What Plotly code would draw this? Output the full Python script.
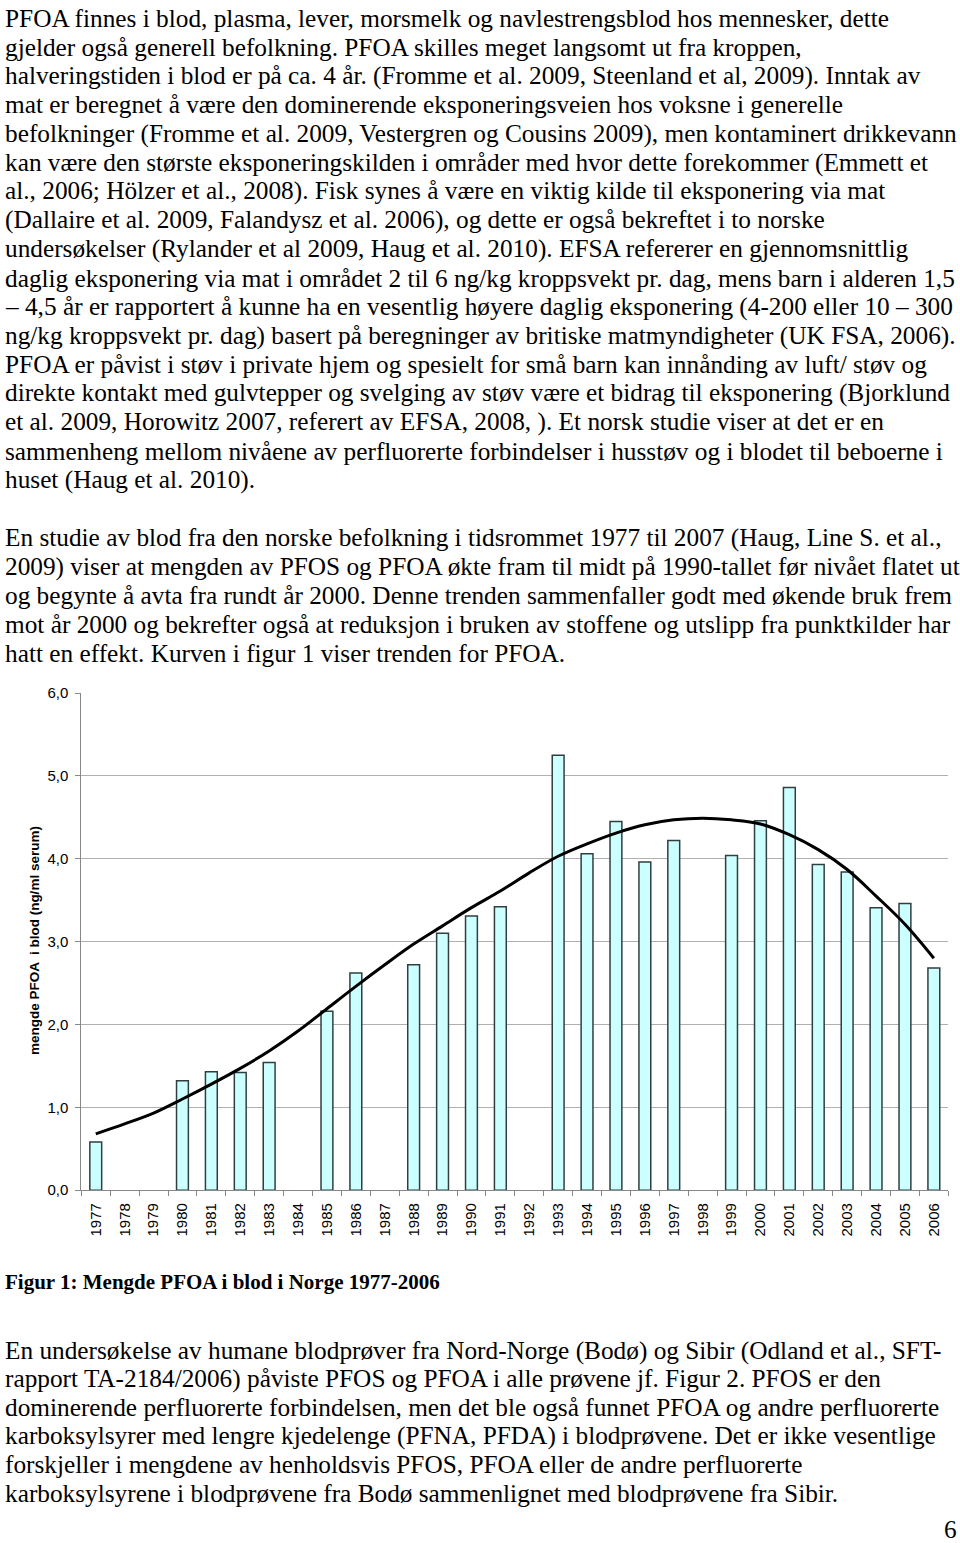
import plotly.graph_objects as go

W, H = 960, 1543

years = [str(y) for y in range(1977, 2007)]
pfoa_values = [0.58, None, None, 1.32, 1.43, 1.42, 1.54, None, 2.16, 2.62,
               None, 2.72, 3.10, 3.31, 3.42, None, 5.25, 4.06, 4.45, 3.96,
               4.22, None, 4.04, 4.46, 4.86, 3.93, 3.84, 3.41, 3.46, 2.68]
trend_values = [0.68, 0.80, 0.93, 1.10, 1.28, 1.47, 1.68, 1.92, 2.19, 2.46,
                2.72, 2.97, 3.19, 3.41, 3.61, 3.83, 4.03, 4.18, 4.31, 4.41,
                4.47, 4.49, 4.47, 4.42, 4.29, 4.11, 3.87, 3.55, 3.21, 2.80]
y_ticks = [0, 1, 2, 3, 4, 5, 6]
y_ticklabels = ["0,0", "1,0", "2,0", "3,0", "4,0", "5,0", "6,0"]
y_title = "mengde PFOA  i blod (ng/ml serum)"
caption = "Figur 1: Mengde PFOA i blod i Norge 1977-2006"

para_top = [
    "PFOA finnes i blod, plasma, lever, morsmelk og navlestrengsblod hos mennesker, dette",
    "gjelder også generell befolkning. PFOA skilles meget langsomt ut fra kroppen,",
    "halveringstiden i blod er på ca. 4 år. (Fromme et al. 2009, Steenland et al, 2009). Inntak av",
    "mat er beregnet å være den dominerende eksponeringsveien hos voksne i generelle",
    "befolkninger (Fromme et al. 2009, Vestergren og Cousins 2009), men kontaminert drikkevann",
    "kan være den største eksponeringskilden i områder med hvor dette forekommer (Emmett et",
    "al., 2006; Hölzer et al., 2008). Fisk synes å være en viktig kilde til eksponering via mat",
    "(Dallaire et al. 2009, Falandysz et al. 2006), og dette er også bekreftet i to norske",
    "undersøkelser (Rylander et al 2009, Haug et al. 2010). EFSA refererer en gjennomsnittlig",
    "daglig eksponering via mat i området 2 til 6 ng/kg kroppsvekt pr. dag, mens barn i alderen 1,5",
    "– 4,5 år er rapportert å kunne ha en vesentlig høyere daglig eksponering (4-200 eller 10 – 300",
    "ng/kg kroppsvekt pr. dag) basert på beregninger av britiske matmyndigheter (UK FSA, 2006).",
    "PFOA er påvist i støv i private hjem og spesielt for små barn kan innånding av luft/ støv og",
    "direkte kontakt med gulvtepper og svelging av støv være et bidrag til eksponering (Bjorklund",
    "et al. 2009, Horowitz 2007, referert av EFSA, 2008, ). Et norsk studie viser at det er en",
    "sammenheng mellom nivåene av perfluorerte forbindelser i husstøv og i blodet til beboerne i",
    "huset (Haug et al. 2010).",
    "",
    "En studie av blod fra den norske befolkning i tidsrommet 1977 til 2007 (Haug, Line S. et al.,",
    "2009) viser at mengden av PFOS og PFOA økte fram til midt på 1990-tallet før nivået flatet ut",
    "og begynte å avta fra rundt år 2000. Denne trenden sammenfaller godt med økende bruk frem",
    "mot år 2000 og bekrefter også at reduksjon i bruken av stoffene og utslipp fra punktkilder har",
    "hatt en effekt. Kurven i figur 1 viser trenden for PFOA.",
]
para_bottom = [
    "En undersøkelse av humane blodprøver fra Nord-Norge (Bodø) og Sibir (Odland et al., SFT-",
    "rapport TA-2184/2006) påviste PFOS og PFOA i alle prøvene jf. Figur 2. PFOS er den",
    "dominerende perfluorerte forbindelsen, men det ble også funnet PFOA og andre perfluorerte",
    "karboksylsyrer med lengre kjedelenge (PFNA, PFDA) i blodprøvene. Det er ikke vesentlige",
    "forskjeller i mengdene av henholdsvis PFOS, PFOA eller de andre perfluorerte",
    "karboksylsyrene i blodprøvene fra Bodø sammenlignet med blodprøvene fra Sibir.",
]
page_number = "6"

# layout in pixels
PL, PR, PT, PB = 81.3, 948.3, 691.7, 1194.3
def px(x): return x / W
def py(y): return 1 - y / H

SERIF = "Liberation Serif, Times New Roman, serif"
SANS = "Liberation Sans, Arial, sans-serif"
BODY = 25.3

fig = go.Figure()
fig.add_trace(go.Bar(
    x=years, y=pfoa_values, width=0.41,
    marker=dict(color="#CCFFFF", line=dict(color="#2F3F3F", width=1.5)),
    showlegend=False, hoverinfo="x+y",
))
fig.add_trace(go.Scatter(
    x=years, y=trend_values, mode="lines",
    line=dict(color="black", width=3, shape="spline", smoothing=1.0),
    showlegend=False, hoverinfo="skip",
))

annotations = []
for i, line in enumerate(para_top):
    if not line:
        continue
    annotations.append(dict(
        x=px(3), y=py(9 + 29.17 * i), xref="paper", yref="paper",
        xanchor="left", yanchor="middle", text=line, showarrow=False,
        font=dict(family=SERIF, size=BODY, color="black"),
    ))
for i, line in enumerate(para_bottom):
    annotations.append(dict(
        x=px(3), y=py(1356 + 28.9 * i), xref="paper", yref="paper",
        xanchor="left", yanchor="middle", text=line, showarrow=False,
        font=dict(family=SERIF, size=BODY, color="black"),
    ))
annotations.append(dict(
    x=px(3), y=py(1287), xref="paper", yref="paper",
    xanchor="left", yanchor="middle", text="<b>" + caption + "</b>", showarrow=False,
    font=dict(family=SERIF, size=21, color="black"),
))
annotations.append(dict(
    x=px(959), y=py(1537), xref="paper", yref="paper",
    xanchor="right", yanchor="middle", text=page_number, showarrow=False,
    font=dict(family=SERIF, size=BODY, color="black"),
))
annotations.append(dict(
    x=px(34), y=py(942.5), xref="paper", yref="paper",
    xanchor="center", yanchor="middle", text="<b>" + y_title + "</b>",
    textangle=-90, showarrow=False,
    font=dict(family=SANS, size=13.5, color="black"),
))

fig.update_layout(
    width=W, height=H,
    margin=dict(l=0, r=0, t=0, b=0),
    paper_bgcolor="white", plot_bgcolor="white",
    bargap=0.59,
    annotations=annotations,
    xaxis=dict(
        domain=[px(PL), px(PR)],
        type="category", categoryorder="array", categoryarray=years,
        tickangle=-90, tickfont=dict(family=SANS, size=15, color="black"),
        ticks="outside", tickson="boundaries", ticklen=5, tickcolor="#888888",
        ticklabelstandoff=6,
        showline=True, linecolor="#888888", linewidth=1,
        showgrid=False, zeroline=False, fixedrange=True,
    ),
    yaxis=dict(
        domain=[py(PB), py(PT)],
        range=[0, 6], tickvals=y_ticks, ticktext=y_ticklabels,
        tickfont=dict(family=SANS, size=15, color="black"),
        ticks="outside", ticklen=5, tickcolor="#888888",
        ticklabelstandoff=4,
        showline=True, linecolor="#888888", linewidth=1,
        showgrid=True, gridcolor="#B0B0B0", gridwidth=1,
        zeroline=False, fixedrange=True,
    ),
)

fig.write_html(
    "out.html", include_plotlyjs=True,
    config={"displayModeBar": False},
    post_script="document.body.style.margin='0px';document.body.style.overflow='hidden';",
)
